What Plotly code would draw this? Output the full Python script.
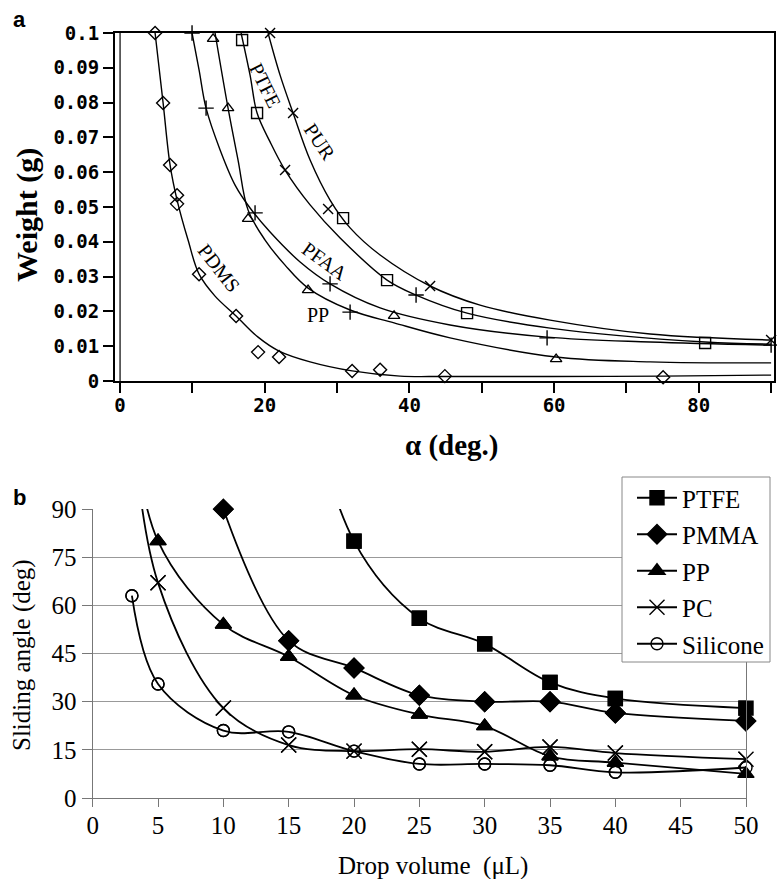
import plotly.graph_objects as go

# ---------------- Panel a data ----------------
# fitted curves
pdms_cx = [4.84, 5.95, 6.91, 7.88, 9.4, 10.92, 13.13, 16.04, 19.08, 21.98, 26.27, 32.08, 38.71, 44.9, 59.45, 75.07, 90.0]
pdms_cy = [0.1, 0.0799, 0.0621, 0.052, 0.0405, 0.0307, 0.0244, 0.0187, 0.0126, 0.0086, 0.0055, 0.0029, 0.0014, 0.0013, 0.0013, 0.0014, 0.0017]
pur_cx = [20.46, 22.12, 23.92, 26.27, 29.03, 31.80, 35.95, 42.86, 49.77, 59.45, 73.28, 90.0]
pur_cy = [0.1, 0.0879, 0.0770, 0.0635, 0.0520, 0.0440, 0.0362, 0.0273, 0.0218, 0.0175, 0.0135, 0.0118]
ptfe_cx = [16.73, 17.97, 18.94, 20.74, 22.81, 26.27, 30.42, 36.91, 40.92, 47.97, 59.45, 80.88, 90.0]
ptfe_cy = [0.1, 0.0879, 0.0770, 0.0687, 0.0606, 0.0506, 0.0411, 0.0290, 0.0247, 0.0195, 0.0152, 0.0112, 0.0106]
pp_cx = [9.95, 10.92, 11.89, 13.83, 15.90, 17.97, 20.74, 24.89, 29.03, 35.95, 45.62, 59.03, 73.28, 90.0]
pp_cy = [0.1, 0.0894, 0.0784, 0.0664, 0.0563, 0.0497, 0.0428, 0.0342, 0.0279, 0.0210, 0.0161, 0.0126, 0.0112, 0.0103]
pfaa_cx = [13.13, 14.93, 16.31, 17.70, 20.05, 22.81, 25.99, 31.80, 37.88, 45.62, 60.28, 73.28, 90.0]
pfaa_cy = [0.1, 0.0784, 0.0635, 0.0491, 0.0405, 0.0333, 0.0267, 0.0204, 0.0167, 0.0124, 0.0069, 0.0055, 0.0052]

# measured points
pdms_x = [4.84, 5.95, 6.91, 7.88, 7.88, 10.92, 16.04, 19.08, 21.98, 32.08, 35.95, 44.9, 75.07]
pdms_y = [0.1, 0.0799, 0.0621, 0.0534, 0.0509, 0.0307, 0.0187, 0.0083, 0.0069, 0.0029, 0.0032, 0.0014, 0.0011]
pur_x = [20.74, 23.92, 22.81, 28.76, 42.86, 90.0]
pur_y = [0.1, 0.077, 0.0606, 0.0494, 0.0273, 0.0118]
ptfe_x = [16.87, 18.94, 30.83, 36.91, 47.97, 80.88]
ptfe_y = [0.098, 0.077, 0.0468, 0.029, 0.0195, 0.0109]
pfaa_x = [12.86, 14.93, 17.7, 25.99, 37.88, 60.28]
pfaa_y = [0.0983, 0.0784, 0.0466, 0.0261, 0.0187, 0.0063]
pp_x = [9.95, 11.89, 18.66, 29.03, 31.8, 40.92, 59.03, 90.0]
pp_y = [0.1, 0.0784, 0.0483, 0.0279, 0.0198, 0.0247, 0.0124, 0.0103]

a_yticks = [0, 0.01, 0.02, 0.03, 0.04, 0.05, 0.06, 0.07, 0.08, 0.09, 0.1]
a_ytext = ["0", "0.01", "0.02", "0.03", "0.04", "0.05", "0.06", "0.07", "0.08", "0.09", "0.1"]
a_xticks = [0, 10, 20, 30, 40, 50, 60, 70, 80, 90]
a_xtext = ["0", "", "20", "", "40", "", "60", "", "80", ""]

# ---------------- Panel b data ----------------
b_ptfe_x = [15, 20, 25, 30, 35, 40, 50]
b_ptfe_y = [150, 80, 56, 48, 36, 31, 28]
b_pmma_x = [10, 15, 20, 25, 30, 35, 40, 50]
b_pmma_y = [90, 49, 40.5, 32, 30, 30, 26.5, 24]
b_pp_x = [3, 5, 10, 15, 20, 25, 30, 35, 40, 50]
b_pp_y = [120, 80, 54, 44, 32, 26, 22.4, 13, 11, 7.5]
b_pc_x = [3, 5, 10, 15, 20, 25, 30, 35, 40, 50]
b_pc_y = [120, 67, 28, 16.5, 14.6, 15.2, 14.4, 15.9, 14, 12.1]
b_si_x = [3, 5, 10, 15, 20, 25, 30, 35, 40, 50]
b_si_y = [63, 35.5, 21, 20.6, 14.6, 10.6, 10.6, 10.2, 8, 9.5]

b_xticks = [0, 5, 10, 15, 20, 25, 30, 35, 40, 45, 50]
b_yticks = [0, 15, 30, 45, 60, 75, 90]
B_YMAX = 90

W, H = 777, 879
fig = go.Figure()

# panel a curves
for cx, cy in [(pdms_cx, pdms_cy), (pur_cx, pur_cy), (ptfe_cx, ptfe_cy), (pp_cx, pp_cy), (pfaa_cx, pfaa_cy)]:
    fig.add_trace(go.Scatter(x=cx, y=cy, mode="lines", line=dict(color="black", width=1.4, shape="spline"),
                             showlegend=False, xaxis="x", yaxis="y", hoverinfo="skip"))
# panel a markers
for mx, my, sym, sz in [(pdms_x, pdms_y, "diamond-open", 10), (pur_x, pur_y, "x-thin-open", 10),
                        (ptfe_x, ptfe_y, "square-open", 11), (pfaa_x, pfaa_y, "triangle-up-open", 10),
                        (pp_x, pp_y, "cross-thin-open", 11)]:
    fig.add_trace(go.Scatter(x=mx, y=my, mode="markers", cliponaxis=False,
                             marker=dict(symbol=sym, size=sz, color="black", line=dict(width=1.4, color="black")),
                             showlegend=False, xaxis="x", yaxis="y"))

# panel b
b_series = [("PTFE", b_ptfe_x, b_ptfe_y, "square", 14),
            ("PMMA", b_pmma_x, b_pmma_y, "diamond", 15),
            ("PP", b_pp_x, b_pp_y, "triangle-up", 14),
            ("PC", b_pc_x, b_pc_y, "x-thin", 15),
            ("Silicone", b_si_x, b_si_y, "circle-open", 12)]
for name, bx, by, sym, sz in b_series:
    mk = dict(symbol=sym, size=sz, color="black", line=dict(width=1.4, color="black"))
    fig.add_trace(go.Scatter(x=bx, y=by, mode="lines+markers", name=name, legendgroup=name, cliponaxis=True,
                             line=dict(color="black", width=1.8, shape="spline"), marker=mk,
                             xaxis="x2", yaxis="y2"))
    # in-range points drawn unclipped so edge markers stay whole
    ix = [x for x, y in zip(bx, by) if y <= B_YMAX]
    iy = [y for y in by if y <= B_YMAX]
    fig.add_trace(go.Scatter(x=ix, y=iy, mode="markers", cliponaxis=False, marker=mk, showlegend=False,
                             legendgroup=name, xaxis="x2", yaxis="y2"))

mono = dict(family="DejaVu Sans Mono", size=19, color="black", weight="bold")
serif = dict(family="Liberation Serif", size=25, color="black")

fig.update_layout(
    width=W, height=H, margin=dict(l=0, r=0, t=0, b=0, autoexpand=False),
    paper_bgcolor="white", plot_bgcolor="white",
    xaxis=dict(domain=[115 / W, 774 / W], range=[-0.7, 90.4], tickvals=a_xticks, ticktext=a_xtext,
               ticks="outside", ticklen=10, tickwidth=1.5, tickcolor="black", showline=True, mirror=True,
               linewidth=2, linecolor="black", showgrid=False, zeroline=False, tickfont=mono, anchor="y",
               automargin=False, ticklabelstandoff=-4),
    yaxis=dict(domain=[1 - 381 / H, 1 - 33 / H], range=[0, 0.1], tickvals=a_yticks, ticktext=a_ytext,
               ticks="outside", ticklen=10, tickwidth=1.5, tickcolor="black", showline=True, mirror=True,
               linewidth=2, linecolor="black", showgrid=False, zeroline=False, tickfont=mono, anchor="x",
               automargin=False),
    xaxis2=dict(domain=[92.7 / W, 746 / W], range=[0, 50], tickvals=b_xticks, ticks="outside", ticklen=8,
                tickcolor="#777", showline=True, linecolor="#777", linewidth=1.3, showgrid=False,
                zeroline=False, tickfont=serif, anchor="y2", automargin=False, ticklabelstandoff=-3),
    yaxis2=dict(domain=[1 - 798 / H, 1 - 509 / H], range=[0, B_YMAX], tickvals=b_yticks, ticks="outside",
                ticklen=10, tickcolor="#777", showline=True, mirror=True, linecolor="#777", linewidth=1.3,
                showgrid=True, gridcolor="#999", gridwidth=1.3, zeroline=False, tickfont=serif, anchor="x2",
                automargin=False),
    legend=dict(x=632 / W, y=1 - 475 / H, xanchor="left", yanchor="top", bgcolor="rgba(0,0,0,0)",
                borderwidth=0, font=dict(family="Liberation Serif", size=25, color="black"),
                tracegroupgap=1, itemwidth=40),
    showlegend=True,
)

# double line on the left of panel a
fig.add_shape(type="line", xref="x", yref="y", x0=0, x1=0, y0=0, y1=0.1, line=dict(color="black", width=1.2))
# legend frame
fig.add_shape(type="rect", xref="paper", yref="paper", x0=622 / W, x1=770 / W, y0=1 - 662 / H, y1=1 - 477 / H,
              fillcolor="white", line=dict(color="#888", width=1), layer="above")

lab = dict(family="Liberation Serif", size=20, color="black")
ann = [
    dict(text="PDMS", x=13.7, y=0.0325, xref="x", yref="y", textangle=52, font=lab),
    dict(text="PTFE", x=20.05, y=0.085, xref="x", yref="y", textangle=64, font=lab),
    dict(text="PUR", x=27.65, y=0.0687, xref="x", yref="y", textangle=56, font=lab),
    dict(text="PFAA", x=28.3, y=0.0345, xref="x", yref="y", textangle=36, font=lab),
    dict(text="PP", x=27.4, y=0.019, xref="x", yref="y", textangle=0, font=lab),
    dict(text="Weight (g)", x=27 / W, y=1 - 215 / H, xref="paper", yref="paper", textangle=-90,
         font=dict(family="Liberation Serif", size=30, color="black", weight="bold")),
    dict(text="α (deg.)", x=452 / W, y=1 - 445 / H, xref="paper", yref="paper",
         font=dict(family="Liberation Serif", size=29, color="black", weight="bold")),
    dict(text="a", x=19 / W, y=1 - 20 / H, xref="paper", yref="paper",
         font=dict(family="Liberation Sans", size=22, color="black", weight="bold")),
    dict(text="b", x=19 / W, y=1 - 497 / H, xref="paper", yref="paper",
         font=dict(family="Liberation Sans", size=22, color="black", weight="bold")),
    dict(text="Sliding angle (deg)", x=22 / W, y=1 - 655 / H, xref="paper", yref="paper", textangle=-90,
         font=dict(family="Liberation Serif", size=25, color="black")),
    dict(text="Drop volume\u00a0 (\u03bcL)", x=433 / W, y=1 - 866 / H, xref="paper", yref="paper",
         font=dict(family="Liberation Serif", size=25, color="black")),
]
for a in ann:
    a.update(showarrow=False, xanchor="center", yanchor="middle")
fig.update_layout(annotations=ann)

fig.write_html("out.html", config={"displayModeBar": False},
               post_script="document.body.style.margin='0px';document.body.style.overflow='hidden';")
